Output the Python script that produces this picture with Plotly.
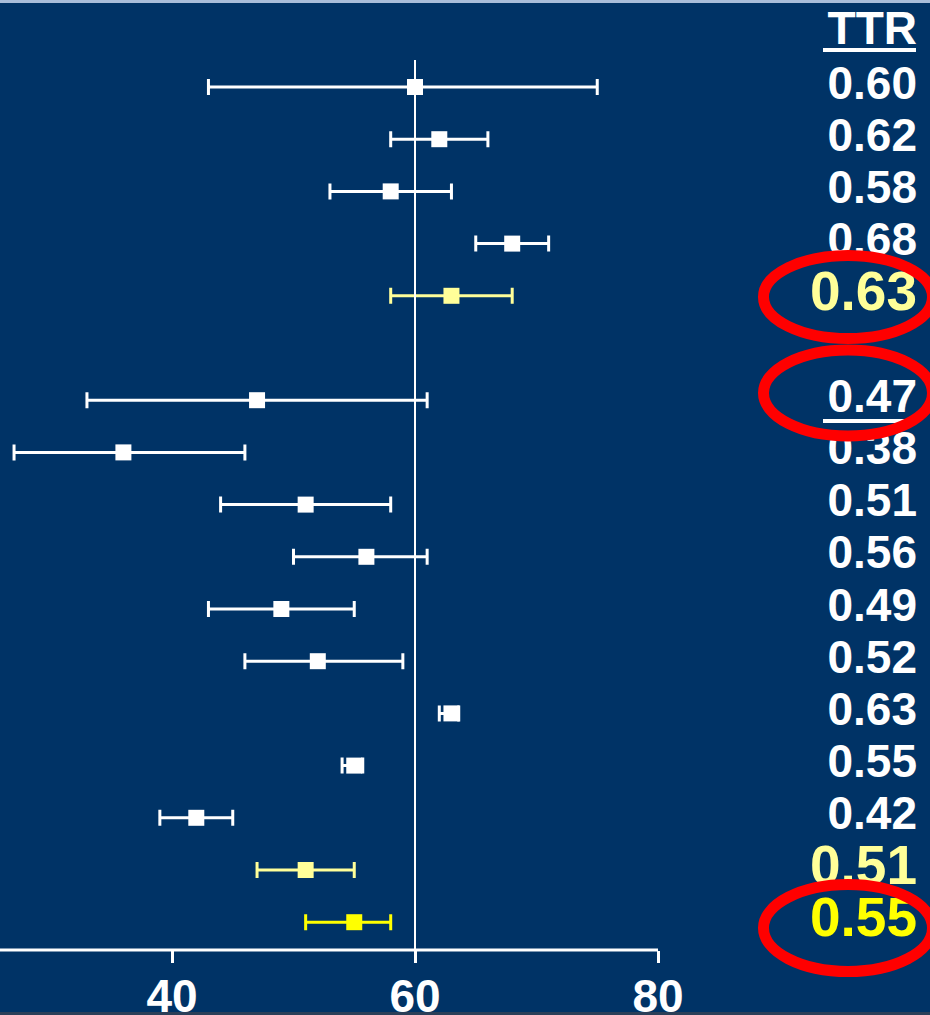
import plotly.graph_objects as go

# ---------------- data ----------------
rows = [0, 1, 2, 3, 4, 6, 7, 8, 9, 10, 11, 12, 13, 14, 15, 16]
estimate = [60, 62, 58, 68, 63, 47, 36, 51, 56, 49, 52, 63, 55, 42, 51, 55]
ci_low = [43, 58, 53, 65, 58, 33, 27, 44, 50, 43, 46, 62, 54, 39, 47, 51]
ci_high = [75, 66, 63, 71, 68, 61, 46, 58, 61, 55, 59, 63.6, 55.7, 45, 55, 58]
ttr = ["0.60", "0.62", "0.58", "0.68", "0.63", "0.47", "0.38", "0.51", "0.56",
       "0.49", "0.52", "0.63", "0.55", "0.42", "0.51", "0.55"]
group = ["w", "w", "w", "w", "p", "w", "w", "w", "w", "w", "w", "w", "w", "w", "p", "y"]
highlight_rows = [4, 15, 16]          # larger label font
circled_rows = [4, 6, 16]
x_ticks = [40, 60, 80]
ref_value = 60
header = "TTR"

# ---------------- style ----------------
BG = "#003366"
COLORS = {"w": "#FFFFFF", "p": "#FFFF99", "y": "#FFFF00"}
FONT = "Liberation Sans, Arial, sans-serif"

W, H = 930, 1015
MB = 65
plot_h = H - MB
ROW_PX, FIRST_PX = 52.2, 87.0
PX_PER_UNIT = 12.15
x_min = ref_value - 415 / PX_PER_UNIT
x_max = x_min + W / PX_PER_UNIT
y_top = -FIRST_PX / ROW_PX
y_bot = (plot_h - FIRST_PX) / ROW_PX


def px_x(px):
    return px / W


def px_y(py):
    return (plot_h - py) / plot_h


fig = go.Figure()

for g in ["w", "p", "y"]:
    idx = [i for i, gg in enumerate(group) if gg == g]
    fig.add_trace(go.Scatter(
        x=[estimate[i] for i in idx],
        y=[rows[i] for i in idx],
        mode="markers",
        marker=dict(symbol="square", size=16, color=COLORS[g], line=dict(width=0)),
        error_x=dict(type="data", symmetric=False,
                     array=[ci_high[i] - estimate[i] for i in idx],
                     arrayminus=[estimate[i] - ci_low[i] for i in idx],
                     color=COLORS[g], thickness=3, width=8),
        showlegend=False, hoverinfo="skip", cliponaxis=False,
    ))

# labels column (text trace so that the red ellipses sit above it)
label_x = x_min + 917 / PX_PER_UNIT
lab_y = [-1.05] + rows
lab_t = [header] + ttr
lab_c = ["#FFFFFF"] + [COLORS[g] for g in group]
lab_s = [46] + [55 if r in highlight_rows else 46 for r in rows]
fig.add_trace(go.Scatter(
    x=[label_x] * len(lab_y), y=lab_y, mode="text", text=lab_t,
    textposition="middle left",
    textfont=dict(family=FONT, size=lab_s, color=lab_c, weight="bold"),
    showlegend=False, hoverinfo="skip", cliponaxis=False,
))

shapes = []
# x axis line (ends at the last tick)
shapes.append(dict(type="line", xref="x", yref="paper", x0=x_min, x1=x_ticks[-1],
                   y0=0, y1=0, line=dict(color="white", width=3), layer="above"))
# reference vertical line
shapes.append(dict(type="line", xref="x", yref="paper", x0=ref_value, x1=ref_value,
                   y0=px_y(60), y1=0, line=dict(color="white", width=2),
                   layer="above"))
# underlines
for py in [50, 421]:
    shapes.append(dict(type="line", xref="paper", yref="paper",
                       x0=px_x(823), x1=px_x(916), y0=px_y(py), y1=px_y(py),
                       line=dict(color="white", width=4)))
# red ellipses
ell = {4: (297, 41.5), 6: (393, 43), 16: (928, 43.5)}
for r in circled_rows:
    cy, ry = ell[r]
    shapes.append(dict(type="circle", xref="paper", yref="paper",
                       x0=px_x(848 - 84.5), x1=px_x(848 + 84.5),
                       y0=px_y(cy - ry), y1=px_y(cy + ry),
                       line=dict(color="#FF0000", width=11), layer="above"))
# slide border strips
shapes.append(dict(type="rect", xref="paper", yref="paper", x0=0, x1=1,
                   y0=px_y(0), y1=px_y(3), fillcolor="#A9BEDA", line=dict(width=0)))
shapes.append(dict(type="rect", xref="paper", yref="paper", x0=0, x1=1,
                   y0=px_y(1012), y1=px_y(H), fillcolor="#2B3F58", line=dict(width=0)))

fig.update_layout(
    width=W, height=H,
    margin=dict(l=0, r=0, t=0, b=MB, pad=0),
    paper_bgcolor=BG, plot_bgcolor=BG,
    shapes=shapes,
    xaxis=dict(range=[x_min, x_max], tickvals=x_ticks, ticktext=[str(v) for v in x_ticks],
               showgrid=False, zeroline=False, showline=False,
               ticks="outside", ticklen=12, tickwidth=3, tickcolor="white",
               ticklabelstandoff=-6,
               tickfont=dict(family=FONT, size=46, color="white", weight="bold"),
               fixedrange=True, automargin=False),
    yaxis=dict(range=[y_bot, y_top], visible=False, showgrid=False, zeroline=False,
               fixedrange=True),
)

fig.write_html("out.html", config={"displayModeBar": False},
               post_script="document.body.style.margin='0';document.body.style.padding='0';document.body.style.overflow='hidden';")
